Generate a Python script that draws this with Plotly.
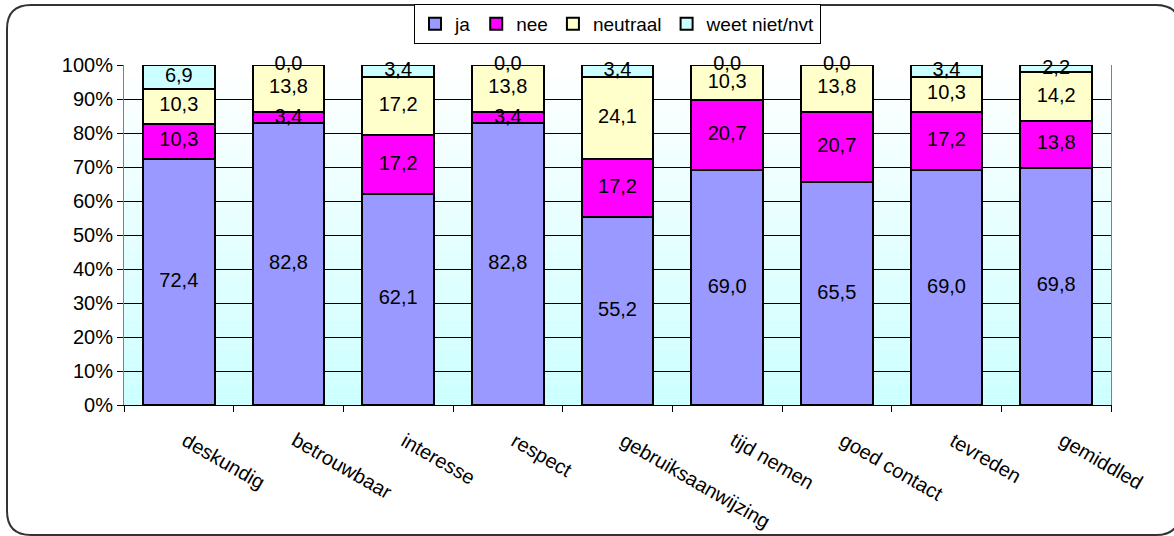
import plotly.graph_objects as go

categories = ["deskundig", "betrouwbaar", "interesse", "respect", "gebruiksaanwijzing",
              "tijd nemen", "goed contact", "tevreden", "gemiddled"]
ja = [72.4, 82.8, 62.1, 82.8, 55.2, 69.0, 65.5, 69.0, 69.8]
nee = [10.3, 3.4, 17.2, 3.4, 17.2, 20.7, 20.7, 17.2, 13.8]
neutraal = [10.3, 13.8, 17.2, 13.8, 24.1, 10.3, 13.8, 10.3, 14.2]
weet_niet = [6.9, 0.0, 3.4, 0.0, 3.4, 0.0, 0.0, 3.4, 2.2]

series = [("ja", ja, "#9999FF"), ("nee", nee, "#FF00FF"),
          ("neutraal", neutraal, "#FFFFCC"), ("weet niet/nvt", weet_niet, "#CCFFFF")]

FONT = "Liberation Sans, Arial, sans-serif"

fig = go.Figure()
for name, vals, col in series:
    fig.add_trace(go.Bar(x=categories, y=vals, name=name,
                         marker=dict(color=col, line=dict(color="black", width=2)),
                         hoverinfo="skip"))

# value labels at segment centres
base = [0.0] * len(categories)
lx, ly, lt = [], [], []
for name, vals, col in series:
    for i, v in enumerate(vals):
        lx.append(categories[i])
        ly.append(base[i] + v / 2)
        lt.append(f"{v:.1f}".replace(".", ","))
        base[i] += v
fig.add_trace(go.Scatter(x=lx, y=ly, text=lt, mode="text", showlegend=False,
                         cliponaxis=False,
                         textfont=dict(family=FONT, size=20, color="black"),
                         hoverinfo="skip"))

# gradient background of plot area
shapes = []
N = 60
for k in range(N):
    t = k / (N - 1)  # 0 at bottom, 1 at top
    r = int(round(0xCC + (0xFF - 0xCC) * t))
    shapes.append(dict(type="rect", xref="x domain", yref="y domain",
                       x0=0, x1=1, y0=k / N, y1=(k + 1) / N,
                       fillcolor=f"rgb({r},255,255)", line=dict(width=0),
                       layer="below"))

# rounded outer border (paper coords computed from margins)
L, R, T, B = 124, 63, 65, 131
W, H = 1174 - L - R, 536 - T - B
def px(xp):
    return (xp - L) / W
def py(yp):
    return 1 - (yp - T) / H
x0, x1, y0, y1, rad = 7, 1180, 5, 535, 24
path = (f"M {px(x0+rad)},{py(y0)} L {px(x1-rad)},{py(y0)} "
        f"Q {px(x1)},{py(y0)} {px(x1)},{py(y0+rad)} "
        f"L {px(x1)},{py(y1-rad)} Q {px(x1)},{py(y1)} {px(x1-rad)},{py(y1)} "
        f"L {px(x0+rad)},{py(y1)} Q {px(x0)},{py(y1)} {px(x0)},{py(y1-rad)} "
        f"L {px(x0)},{py(y0+rad)} Q {px(x0)},{py(y0)} {px(x0+rad)},{py(y0)} Z")
shapes.append(dict(type="path", xref="paper", yref="paper", path=path,
                   line=dict(color="#333333", width=2), layer="above"))

# rotated category labels
annotations = []
for c in categories:
    annotations.append(dict(x=c, y=0, xref="x", yref="y", text=c, showarrow=False,
                            textangle=30, xanchor="left", yanchor="top",
                            xshift=-3, yshift=-21,
                            font=dict(family=FONT, size=20, color="black")))

fig.update_layout(
    width=1174, height=536,
    margin=dict(l=L, r=R, t=T, b=B, autoexpand=False),
    barmode="stack", bargap=0.344,
    paper_bgcolor="white", plot_bgcolor="rgba(0,0,0,0)",
    font=dict(family=FONT, size=20, color="black"),
    shapes=shapes,
    annotations=annotations,
    legend=dict(orientation="h", x=0.5, xanchor="center", y=py(4), yanchor="top",
                bordercolor="black", borderwidth=1, bgcolor="white",
                font=dict(family=FONT, size=19), itemwidth=30,
                traceorder="normal", tracegroupgap=0),
    showlegend=True,
)
fig.update_xaxes(type="category", range=[-0.5, len(categories) - 0.5],
                 tickson="boundaries", ticks="outside", ticklen=6,
                 tickcolor="black", showline=True, linecolor="black", linewidth=1,
                 showgrid=False, showticklabels=False)
fig.update_yaxes(range=[0, 100], dtick=10, ticksuffix="%", ticks="outside", ticklen=6,
                 tickcolor="black", showline=True, linecolor="#808080", linewidth=1,
                 mirror=True, showgrid=True, gridcolor="black", gridwidth=1,
                 zeroline=False, tickfont=dict(family=FONT, size=20))

fig.write_html("out.html")
